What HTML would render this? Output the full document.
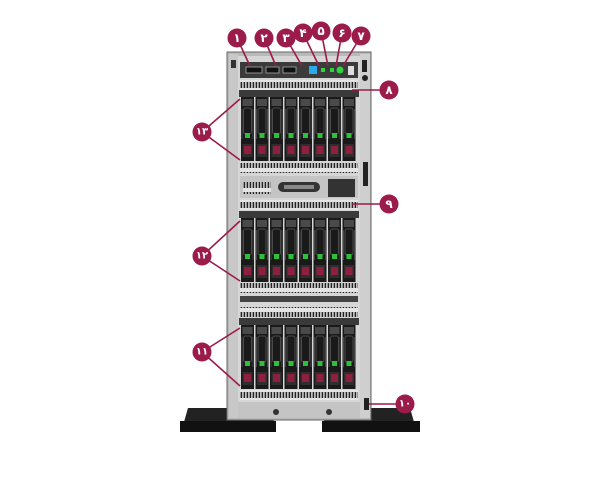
<!DOCTYPE html>
<html><head><meta charset="utf-8"><style>
html,body{margin:0;padding:0;background:#fff;width:600px;height:480px;overflow:hidden}
svg{display:block}
text{font-family:"Liberation Sans","DejaVu Sans",sans-serif;font-weight:bold;fill:#fff;text-anchor:middle;dominant-baseline:central}
</style></head><body>
<svg width="600" height="480" viewBox="0 0 600 480" xmlns="http://www.w3.org/2000/svg">
<defs>
<pattern id="vent" width="3" height="10" patternUnits="userSpaceOnUse">
<rect width="3" height="10" fill="#e4e4e4"/><rect x="0.6" y="2" width="1.6" height="6" fill="#222"/>
</pattern>
<g id="drive">
<rect x="0" y="0" width="13" height="64" fill="#1a1a1a"/>
<rect x="1.5" y="2" width="10" height="7" fill="#4a4a4a"/>
<rect x="2.5" y="11" width="8" height="26" rx="2" fill="none" stroke="#4a4a4a" stroke-width="1"/>
<rect x="0.5" y="12" width="1" height="30" fill="#444"/>
<rect x="11.5" y="12" width="1" height="30" fill="#444"/>
<rect x="4" y="36" width="5" height="5" fill="#2fbf3a"/>
<rect x="1.5" y="47" width="10" height="13" fill="#2e2e2e"/>
<rect x="3" y="49" width="7" height="8" fill="#8d1f3f"/>
</g>
<g id="cage">
<rect x="239" y="0" width="120" height="7" fill="#3a3a3a"/>
<use href="#drive" x="241" y="7"/><use href="#drive" x="255.5" y="7"/><use href="#drive" x="270" y="7"/><use href="#drive" x="284.5" y="7"/>
<use href="#drive" x="299" y="7"/><use href="#drive" x="313.5" y="7"/><use href="#drive" x="328" y="7"/><use href="#drive" x="342.5" y="7"/>
</g>
</defs>
<!-- feet -->
<path d="M188 408 L272 408 L274 422 L184 422 Z" fill="#222"/>
<rect x="180" y="421" width="96" height="11" fill="#111"/>
<path d="M326 408 L410 408 L414 422 L324 422 Z" fill="#222"/>
<rect x="322" y="421" width="98" height="11" fill="#111"/>
<!-- chassis -->
<rect x="227" y="52" width="144" height="368" fill="#b9b9b9" stroke="#666"/>
<rect x="229" y="54" width="9" height="364" fill="#c8c8c8"/>
<rect x="360" y="54" width="10" height="364" fill="#cfcfcf"/>
<rect x="238" y="56" width="122" height="350" fill="#d6d6d6"/>
<!-- top panel -->
<rect x="240" y="62" width="118" height="16" fill="#3b3b3b"/>
<rect x="246" y="67" width="16" height="6" fill="#111" stroke="#aaa" stroke-width="0.8"/>
<rect x="266" y="67" width="13" height="6" fill="#111" stroke="#aaa" stroke-width="0.8"/>
<rect x="283" y="67" width="13" height="6" fill="#111" stroke="#aaa" stroke-width="0.8"/>
<rect x="309" y="66" width="8" height="8" fill="#2aa9ee"/>
<rect x="321" y="68" width="4" height="4" fill="#2fd33a"/>
<rect x="330" y="68" width="4" height="4" fill="#2fd33a"/>
<circle cx="340" cy="70" r="3.5" fill="#2fd33a"/>
<rect x="348" y="66" width="6" height="9" fill="#ddd"/>
<rect x="362" y="60" width="5" height="12" fill="#222"/>
<circle cx="365" cy="78" r="3" fill="#222"/>
<rect x="231" y="60" width="5" height="8" fill="#333"/>
<!-- vents and cages -->
<rect x="240" y="80" width="118" height="10" fill="url(#vent)"/>
<use href="#cage" y="90"/>
<rect x="240" y="163" width="118" height="10" fill="url(#vent)"/>
<rect x="240" y="176" width="118" height="22" fill="#c4c4c4"/>
<rect x="243" y="182" width="28" height="12" fill="url(#vent)"/>
<rect x="278" y="182" width="42" height="10" rx="5" fill="#333"/>
<rect x="284" y="185" width="30" height="4" fill="#888"/>
<rect x="328" y="179" width="27" height="18" fill="#333"/>
<rect x="240" y="200" width="118" height="10" fill="url(#vent)"/>
<use href="#cage" y="211"/>
<rect x="240" y="283" width="118" height="10" fill="url(#vent)"/>
<rect x="240" y="296" width="118" height="6" fill="#444"/>
<rect x="240" y="307" width="118" height="10" fill="url(#vent)"/>
<use href="#cage" y="318"/>
<rect x="240" y="390" width="118" height="10" fill="url(#vent)"/>
<rect x="238" y="402" width="122" height="16" fill="#c4c4c4"/>
<circle cx="276" cy="412" r="3" fill="#333"/><circle cx="329" cy="412" r="3" fill="#333"/>
<rect x="364" y="398" width="5" height="12" fill="#222"/>
<rect x="363" y="162" width="5" height="24" fill="#222"/>
<!-- leader lines -->
<g stroke="#9b1b4a" stroke-width="1.6" fill="none">
<path d="M237 38 L250 66"/><path d="M264 38 L276 66"/><path d="M286 38 L302 66"/>
<path d="M303 33 L319 66"/><path d="M321 31 L328 66"/><path d="M342 33 L336 66"/><path d="M361 36 L343 66"/>
<path d="M380 90 L352 90"/><path d="M380 204 L352 204"/><path d="M396 404 L369 404"/>
<path d="M202 132 L240 99 M202 132 L240 160"/>
<path d="M202 256 L240 221 M202 256 L240 281"/>
<path d="M202 352 L240 328 M202 352 L240 386"/>
</g>
<g fill="#9b1b4a">
<circle cx="237" cy="38" r="9.5"/><circle cx="264" cy="38" r="9.5"/><circle cx="286" cy="38" r="9.5"/>
<circle cx="303" cy="33" r="9.5"/><circle cx="321" cy="31" r="9.5"/><circle cx="342" cy="33" r="9.5"/><circle cx="361" cy="36" r="9.5"/>
<circle cx="389" cy="90" r="9.5"/><circle cx="389" cy="204" r="9.5"/><circle cx="405" cy="404" r="9.5"/>
<circle cx="202" cy="132" r="9.5"/><circle cx="202" cy="256" r="9.5"/><circle cx="202" cy="352" r="9.5"/>
</g>
<g font-size="12">
<text x="237" y="38">۱</text><text x="264" y="38">۲</text><text x="286" y="38">۳</text>
<text x="303" y="33">۴</text><text x="321" y="31">۵</text><text x="342" y="33">۶</text><text x="361" y="36">۷</text>
<text x="389" y="90">۸</text><text x="389" y="204">۹</text>
<text x="405" y="404" font-size="10">۱۰</text>
<text x="202" y="132" font-size="10">۱۳</text><text x="202" y="256" font-size="10">۱۲</text><text x="202" y="352" font-size="10">۱۱</text>
</g>
</svg>
</body></html>
